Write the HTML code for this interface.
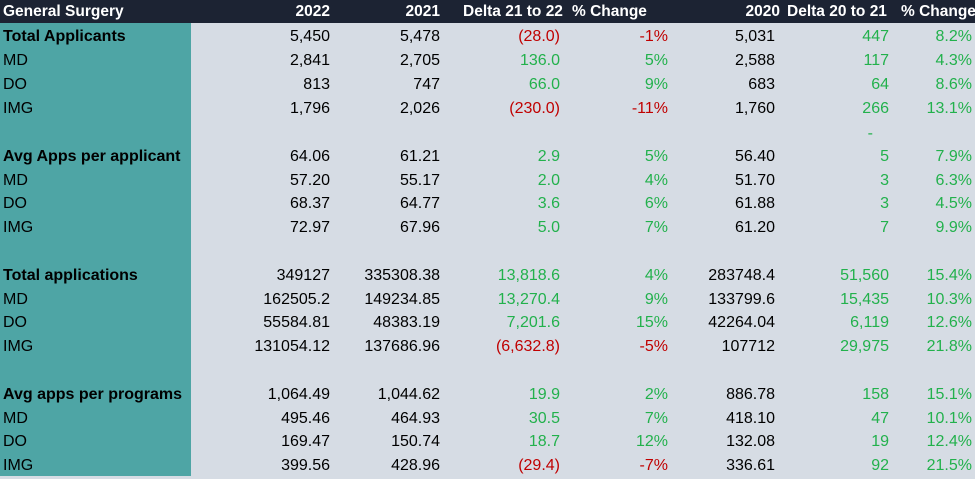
<!DOCTYPE html>
<html><head><style>
body{margin:0;width:975px;height:476px;overflow:hidden;background:#d6dce4;font-family:"Liberation Sans",Arial,sans-serif;font-size:16px;}
.bg{position:absolute;left:0;top:0;width:191px;height:476px;background:#4ea5a5;}
.hd{position:absolute;left:0;top:0;width:975px;height:23px;background:#1c2333;}
.r{position:absolute;left:0;width:975px;height:24px;line-height:26px;}
.r span{position:absolute;white-space:nowrap;}
.l{left:3px;}
.b{font-weight:bold;}
.c1{right:645px}.c2{right:535px}.c3{right:415px}.c4{right:307px}.c5{right:200px}.c6{right:86px}.c7{right:3px}
.g{color:#22b14c}.rd{color:#c00000}
.h span{color:#fff;font-weight:bold;font-size:15.5px}
</style></head><body>
<div class="bg"></div><div class="hd"></div>
<div class="r h" style="top:0px;line-height:23px">
<span class="l">General Surgery</span><span style="right:645px">2022</span><span style="right:535px">2021</span>
<span style="left:463px">Delta 21 to 22</span><span style="left:572px">% Change</span>
<span style="right:195px">2020</span><span style="left:787px">Delta 20 to 21</span><span style="left:901px">% Change</span></div>

<div class="r" style="top:24px"><span class="l b">Total Applicants</span><span class="c1">5,450</span><span class="c2">5,478</span><span class="c3 rd">(28.0)</span><span class="c4 rd">-1%</span><span class="c5">5,031</span><span class="c6 g">447</span><span class="c7 g">8.2%</span></div>
<div class="r" style="top:48px"><span class="l">MD</span><span class="c1">2,841</span><span class="c2">2,705</span><span class="c3 g">136.0</span><span class="c4 g">5%</span><span class="c5">2,588</span><span class="c6 g">117</span><span class="c7 g">4.3%</span></div>
<div class="r" style="top:72px"><span class="l">DO</span><span class="c1">813</span><span class="c2">747</span><span class="c3 g">66.0</span><span class="c4 g">9%</span><span class="c5">683</span><span class="c6 g">64</span><span class="c7 g">8.6%</span></div>
<div class="r" style="top:96px"><span class="l">IMG</span><span class="c1">1,796</span><span class="c2">2,026</span><span class="c3 rd">(230.0)</span><span class="c4 rd">-11%</span><span class="c5">1,760</span><span class="c6 g">266</span><span class="c7 g">13.1%</span></div>
<div class="r" style="top:121px"><span class="g" style="right:102px">-</span></div>

<div class="r" style="top:144px"><span class="l b">Avg Apps per applicant</span><span class="c1">64.06</span><span class="c2">61.21</span><span class="c3 g">2.9</span><span class="c4 g">5%</span><span class="c5">56.40</span><span class="c6 g">5</span><span class="c7 g">7.9%</span></div>
<div class="r" style="top:168px"><span class="l">MD</span><span class="c1">57.20</span><span class="c2">55.17</span><span class="c3 g">2.0</span><span class="c4 g">4%</span><span class="c5">51.70</span><span class="c6 g">3</span><span class="c7 g">6.3%</span></div>
<div class="r" style="top:191px"><span class="l">DO</span><span class="c1">68.37</span><span class="c2">64.77</span><span class="c3 g">3.6</span><span class="c4 g">6%</span><span class="c5">61.88</span><span class="c6 g">3</span><span class="c7 g">4.5%</span></div>
<div class="r" style="top:215px"><span class="l">IMG</span><span class="c1">72.97</span><span class="c2">67.96</span><span class="c3 g">5.0</span><span class="c4 g">7%</span><span class="c5">61.20</span><span class="c6 g">7</span><span class="c7 g">9.9%</span></div>

<div class="r" style="top:263px"><span class="l b">Total applications</span><span class="c1">349127</span><span class="c2">335308.38</span><span class="c3 g">13,818.6</span><span class="c4 g">4%</span><span class="c5">283748.4</span><span class="c6 g">51,560</span><span class="c7 g">15.4%</span></div>
<div class="r" style="top:287px"><span class="l">MD</span><span class="c1">162505.2</span><span class="c2">149234.85</span><span class="c3 g">13,270.4</span><span class="c4 g">9%</span><span class="c5">133799.6</span><span class="c6 g">15,435</span><span class="c7 g">10.3%</span></div>
<div class="r" style="top:310px"><span class="l">DO</span><span class="c1">55584.81</span><span class="c2">48383.19</span><span class="c3 g">7,201.6</span><span class="c4 g">15%</span><span class="c5">42264.04</span><span class="c6 g">6,119</span><span class="c7 g">12.6%</span></div>
<div class="r" style="top:334px"><span class="l">IMG</span><span class="c1">131054.12</span><span class="c2">137686.96</span><span class="c3 rd">(6,632.8)</span><span class="c4 rd">-5%</span><span class="c5">107712</span><span class="c6 g">29,975</span><span class="c7 g">21.8%</span></div>

<div class="r" style="top:382px"><span class="l b">Avg apps per programs</span><span class="c1">1,064.49</span><span class="c2">1,044.62</span><span class="c3 g">19.9</span><span class="c4 g">2%</span><span class="c5">886.78</span><span class="c6 g">158</span><span class="c7 g">15.1%</span></div>
<div class="r" style="top:406px"><span class="l">MD</span><span class="c1">495.46</span><span class="c2">464.93</span><span class="c3 g">30.5</span><span class="c4 g">7%</span><span class="c5">418.10</span><span class="c6 g">47</span><span class="c7 g">10.1%</span></div>
<div class="r" style="top:429px"><span class="l">DO</span><span class="c1">169.47</span><span class="c2">150.74</span><span class="c3 g">18.7</span><span class="c4 g">12%</span><span class="c5">132.08</span><span class="c6 g">19</span><span class="c7 g">12.4%</span></div>
<div class="r" style="top:453px"><span class="l">IMG</span><span class="c1">399.56</span><span class="c2">428.96</span><span class="c3 rd">(29.4)</span><span class="c4 rd">-7%</span><span class="c5">336.61</span><span class="c6 g">92</span><span class="c7 g">21.5%</span></div>
</body></html>
